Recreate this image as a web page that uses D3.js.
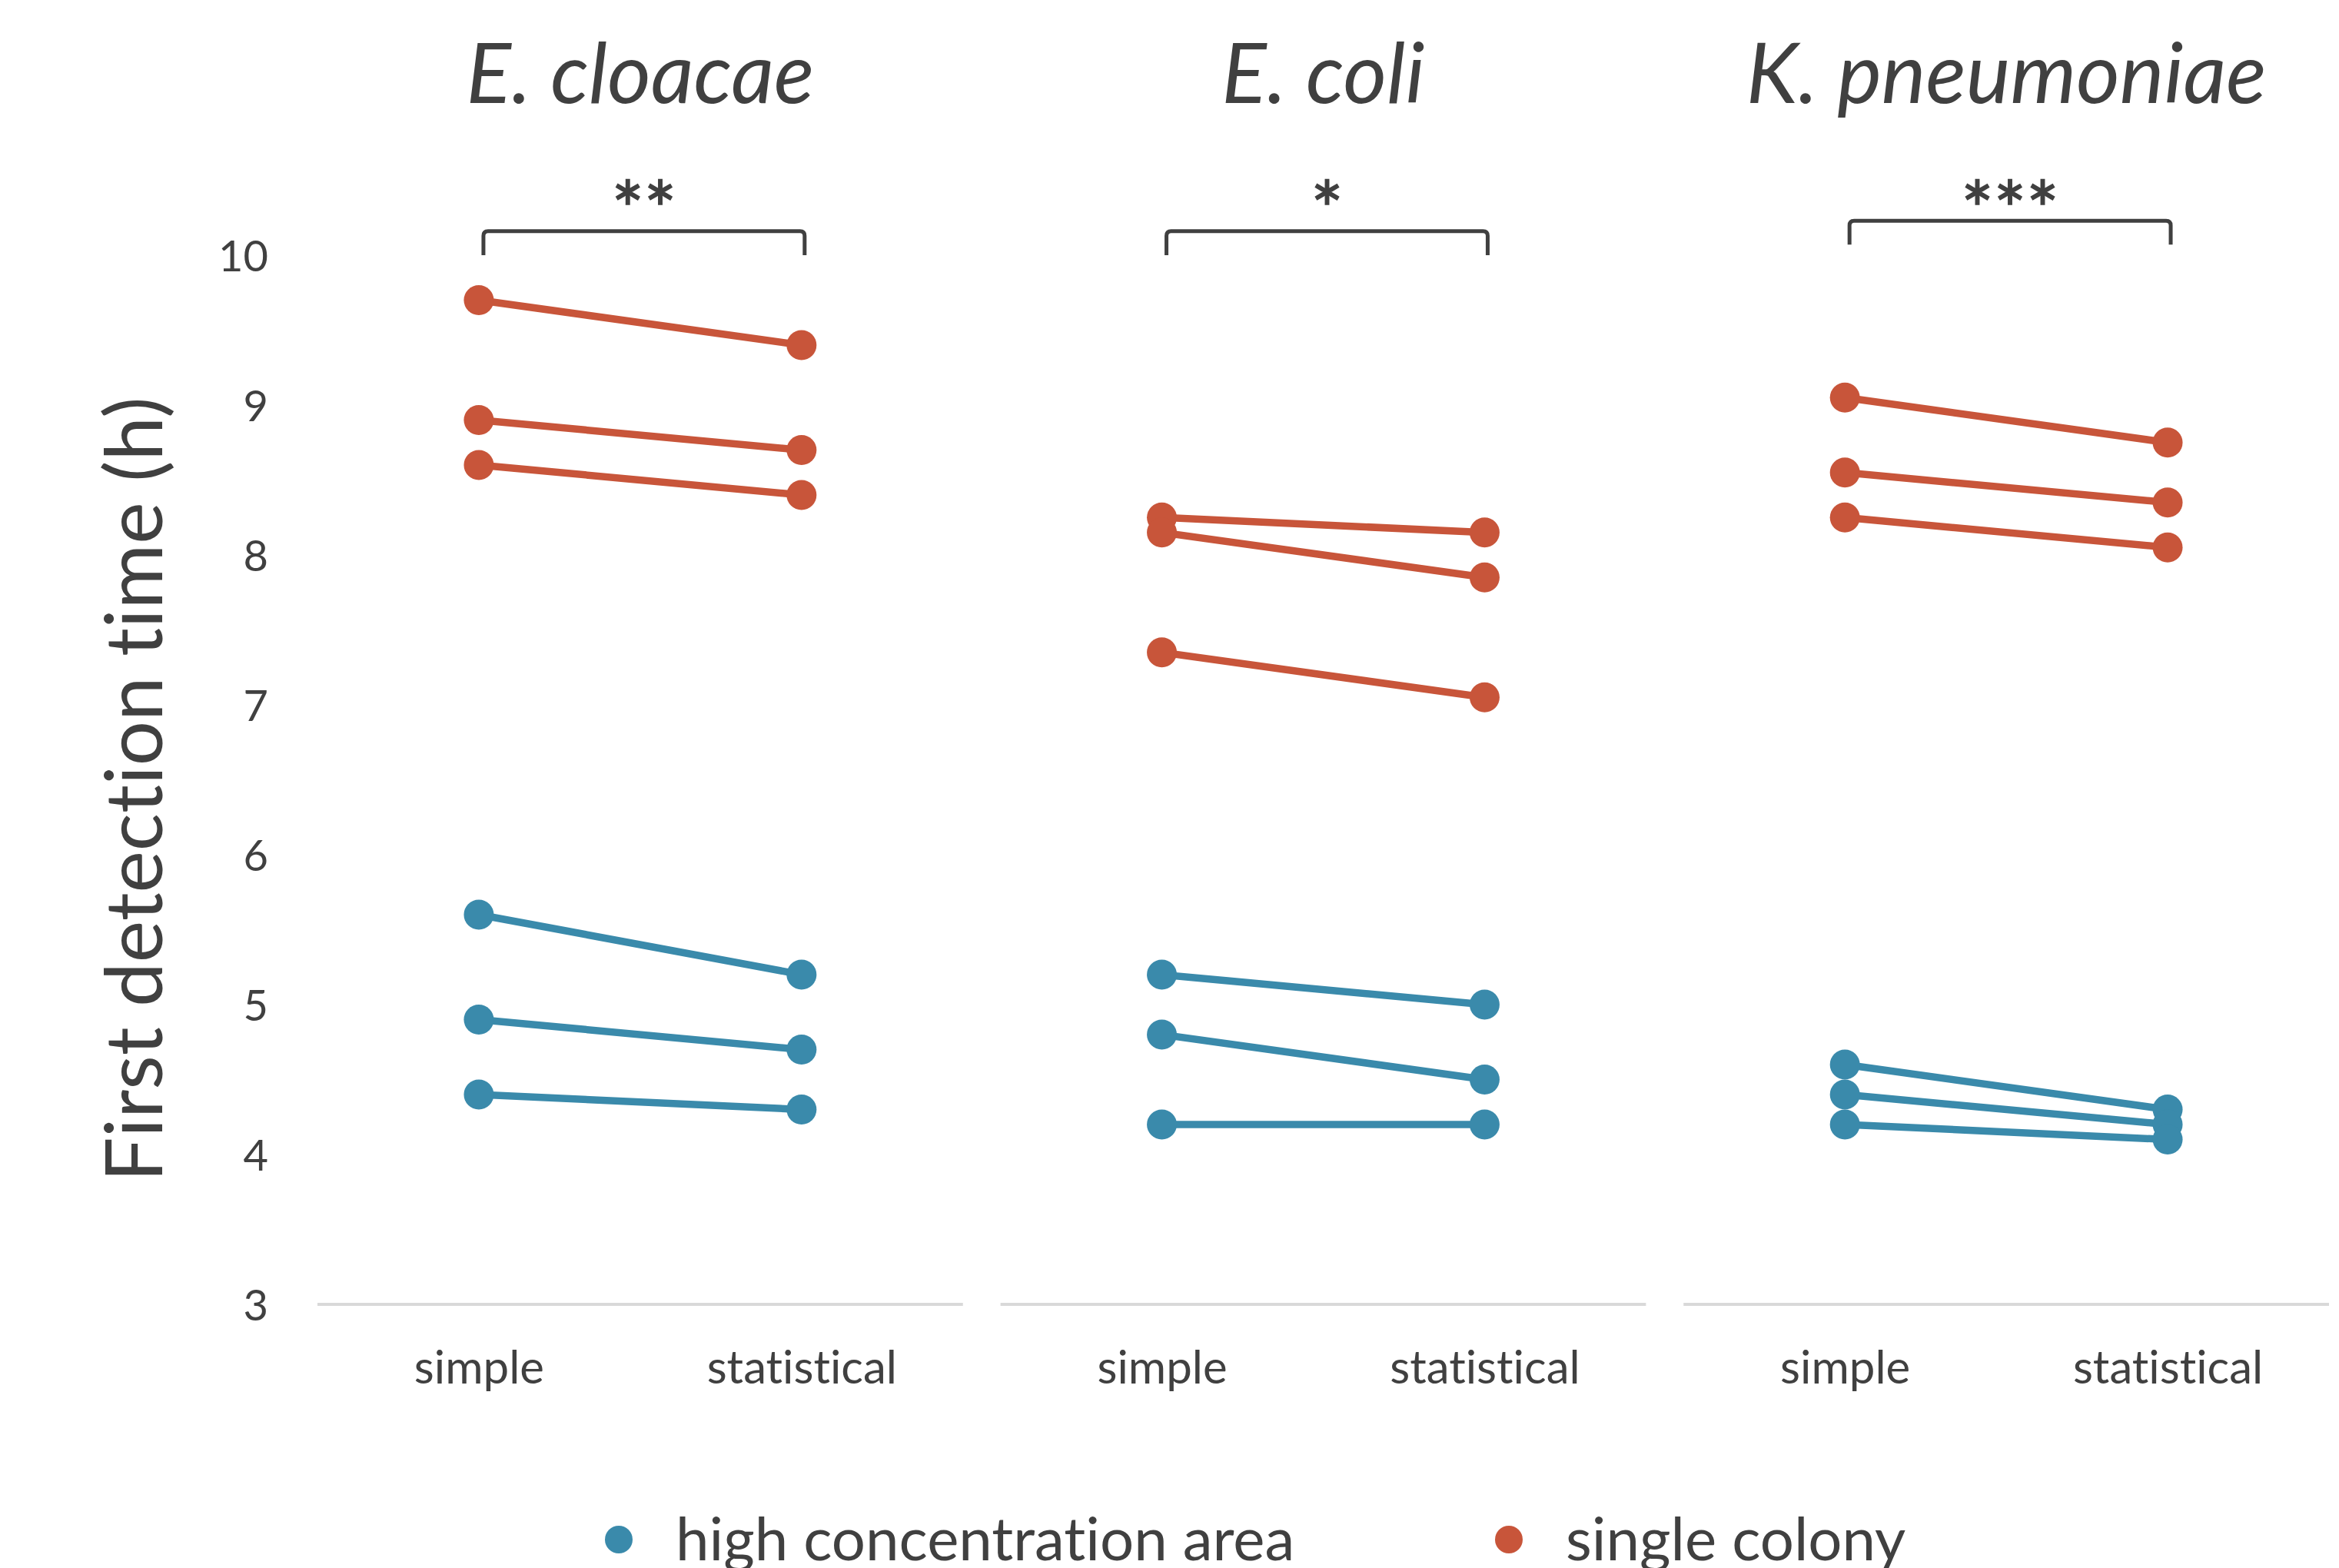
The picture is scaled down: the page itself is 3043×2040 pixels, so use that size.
<!DOCTYPE html>
<html>
<head>
<meta charset="utf-8">
<script src="https://cdn.jsdelivr.net/npm/d3@7"></script>
<style>
  html, body { margin: 0; padding: 0; background: #fff; }
  svg { display: block; }
  text { font-family: Lato, "Open Sans", "DejaVu Sans", sans-serif; fill: #404040; font-variant-ligatures: none; }
</style>
</head>
<body>
<svg id="chart" width="3043" height="2040"></svg>
<script>
// ---- data ----
const species = ["E. cloacae", "E. coli", "K. pneumoniae"];
const methods = ["simple", "statistical"];
const yTicks = [3, 4, 5, 6, 7, 8, 9, 10];
const seriesNames = ["high concentration area", "single colony"];
const seriesColors = ["#3A8AAB", "#C8553A"];

// replicate values per species: [simple, statistical]
const highSimple   = [[5.6, 4.9, 4.4], [5.2, 4.8, 4.2], [4.6, 4.4, 4.2]];
const highStat     = [[5.2, 4.7, 4.3], [5.0, 4.5, 4.2], [4.3, 4.2, 4.1]];
const singleSimple = [[9.7, 8.9, 8.6], [8.25, 8.15, 7.35], [9.05, 8.55, 8.25]];
const singleStat   = [[9.4, 8.7, 8.4], [8.15, 7.85, 7.05], [8.75, 8.35, 8.05]];

const significance = ["**", "*", "***"];
const bracketLevel = [10.16, 10.16, 10.23];   // in hours
const bracketDrop = 0.16;

// ---- layout ----
const svg = d3.select("#chart");
const y = d3.scaleLinear().domain([3, 10]).range([1697, 332]);
const panels = d3.scaleBand().domain(species).range([413, 3030]).paddingInner(0.055);
const bw = panels.bandwidth();
const xIn = d3.scalePoint().domain(methods).range([0, bw]).padding(0.5);

// y axis tick labels
const yAxis = d3.axisLeft(y).tickValues(yTicks).tickSize(0).tickPadding(0).tickFormat(d3.format("d"));
const ya = svg.append("g").attr("transform", "translate(349,0)").call(yAxis);
ya.select(".domain").remove();
ya.selectAll("text").style("font-size", "56px").style("font-family", "Lato, sans-serif").attr("fill", "#404040").attr("dy", "0.36em");

// y axis title
svg.append("text")
  .attr("transform", "translate(211,1027) rotate(-90)")
  .attr("text-anchor", "middle")
  .style("font-size", "103px")
  .text("First detection time (h)");

const line = d3.line().x((d, i) => xIn(methods[i])).y(d => y(d));

species.forEach((sp, si) => {
  const g = svg.append("g").attr("transform", `translate(${panels(sp)},0)`);

  // x axis
  const xa = g.append("g").attr("transform", `translate(0,${y(3)})`)
    .call(d3.axisBottom(xIn).tickSize(0).tickPadding(0));
  xa.select(".domain").attr("stroke", "#D9D9D9").attr("stroke-width", 4).attr("d", `M0,0H${bw}`);
  xa.selectAll("text").style("font-size", "60px").style("font-family", "Lato, sans-serif")
    .attr("fill", "#404040").attr("dy", "0").attr("y", 103);

  // title
  g.append("text").attr("x", bw / 2).attr("y", 134)
    .attr("text-anchor", "middle")
    .style("font-size", "109px").style("font-style", "italic")
    .text(sp);

  // bracket
  const bx0 = xIn(methods[0]) + 6, bx1 = xIn(methods[1]) + 4;
  const by = y(bracketLevel[si]), byb = y(bracketLevel[si] - bracketDrop);
  g.append("path")
    .attr("d", `M${bx0},${byb}V${by + 6}Q${bx0},${by} ${bx0 + 6},${by}H${bx1 - 6}Q${bx1},${by} ${bx1},${by + 6}V${byb}`)
    .attr("fill", "none").attr("stroke", "#404040").attr("stroke-width", 5);
  g.append("text").attr("x", (bx0 + bx1) / 2).attr("y", 310)
    .attr("text-anchor", "middle").style("font-size", "100px")
    .attr("stroke", "#404040").attr("stroke-width", 1.5)
    .text(significance[si]);

  // series
  const groups = [
    { simple: highSimple[si], stat: highStat[si], color: seriesColors[0] },
    { simple: singleSimple[si], stat: singleStat[si], color: seriesColors[1] }
  ];
  groups.forEach(gr => {
    gr.simple.forEach((v, k) => {
      const pair = [v, gr.stat[k]];
      g.append("path").datum(pair).attr("d", line)
        .attr("fill", "none").attr("stroke", gr.color).attr("stroke-width", 9.5);
      g.selectAll(null).data(pair).enter().append("circle")
        .attr("cx", (d, i) => xIn(methods[i])).attr("cy", d => y(d))
        .attr("r", 19.5).attr("fill", gr.color);
    });
  });
});

// legend
const legendX = [805, 1963];
seriesNames.forEach((name, i) => {
  svg.append("circle").attr("cx", legendX[i]).attr("cy", 2003).attr("r", 18).attr("fill", seriesColors[i]);
  svg.append("text").attr("x", legendX[i] + 74).attr("y", 2030).style("font-size", "78px").text(name);
});
</script>
</body>
</html>
